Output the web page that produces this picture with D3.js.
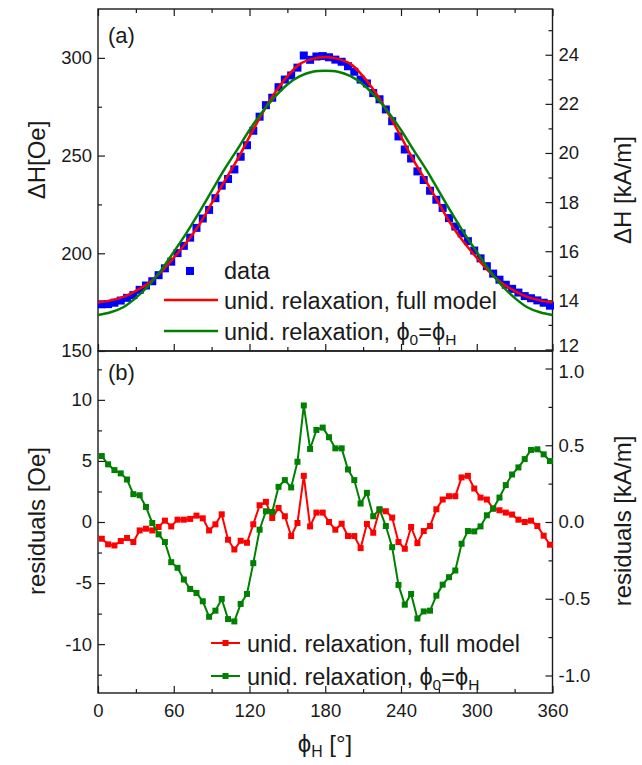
<!DOCTYPE html>
<html>
<head>
<meta charset="utf-8">
<script src="https://cdn.jsdelivr.net/npm/d3@7"></script>
<style>
  body { margin: 0; background: #fff; }
  text { font-family: "Liberation Sans", Arial, sans-serif; fill: #1a1a1a; }
  .axis path { display: none; }
  .axis line { stroke: #1a1a1a; stroke-width: 1.2; }
</style>
</head>
<body>
<svg id="chart" width="642" height="765"></svg>
<script>
// measured field angles (deg)
var angles = [3, 8, 13, 18, 23, 28, 33, 38, 43, 48, 53, 58, 63, 68, 73, 78, 83, 88,
  93, 98, 103, 108, 113, 118, 123, 128, 133, 138, 143, 148, 153, 158, 163, 168, 173, 178,
  183, 188, 193, 198, 203, 208, 213, 218, 223, 228, 233, 238, 243, 248, 253, 258, 263, 268,
  273, 278, 283, 288, 293, 298, 303, 308, 313, 318, 323, 328, 333, 338, 343, 348, 353, 358];

// linewidth data, Oe
var dataDH = [173.9, 174.0, 174.7, 175.8, 177.2, 178.6, 181.3, 183.5, 185.7, 188.8,
  192.3, 195.7, 200.1, 203.8, 208.0, 213.0, 217.8, 222.2, 228.2, 234.6,
  238.0, 242.9, 249.4, 255.3, 262.7, 269.9, 275.8, 279.6, 285.0, 288.9,
  291.0, 295.0, 301.2, 299.0, 300.7, 300.9, 300.3, 299.1, 298.0, 295.7,
  292.9, 288.9, 286.9, 282.0, 278.8, 273.6, 267.6, 259.8, 253.1, 248.5,
  241.9, 237.5, 232.0, 227.4, 223.2, 218.0, 213.7, 210.2, 206.2, 201.4,
  197.4, 193.4, 189.6, 186.5, 183.9, 181.8, 179.9, 178.1, 177.0, 175.9,
  174.7, 173.2];

// residuals, Oe
var resFull = [-1.37, -1.83, -1.92, -1.56, -1.31, -1.64, -0.69, -0.55, -0.69, -0.41,
  0.11, -0.36, 0.19, 0.19, 0.25, 0.52, 0.30, -0.69, -0.19, 0.63,
  -1.45, -2.25, -1.54, -1.70, -0.19, 1.37, 1.65, 0.33, 1.15, 0.47,
  -1.15, -0.08, 3.78, -0.36, 0.77, 0.77, 0.00, -0.63, -0.14, -1.15,
  -1.15, -2.14, -0.16, -0.88, 1.01, 0.88, 0.36, -1.64, -2.19, -0.41,
  -1.73, -0.74, -0.33, 1.04, 1.84, 2.11, 2.11, 3.65, 3.78, 2.74,
  2.00, 1.84, 1.10, 0.96, 0.77, 0.61, 0.19, 0.00, 0.11, -0.33,
  -1.12, -1.86];

var resPhi = [5.40, 4.72, 4.25, 3.98, 3.48, 2.28, 2.19, 1.23, -0.08, -1.01,
  -1.64, -3.29, -3.75, -4.71, -5.48, -5.81, -6.49, -7.76, -7.26, -6.30,
  -7.95, -8.14, -6.71, -5.89, -3.37, -0.63, 0.88, 0.82, 2.88, 3.43,
  2.83, 4.93, 9.54, 5.98, 7.54, 7.73, 6.94, 6.03, 6.03, 4.30,
  3.43, 1.51, 2.39, 0.47, 1.04, -0.33, -2.06, -5.15, -6.77, -5.89,
  -7.90, -7.32, -7.26, -6.03, -5.13, -4.52, -3.97, -1.78, -0.74, -0.77,
  -0.36, 0.55, 1.10, 2.00, 3.02, 3.89, 4.47, 5.15, 5.90, 5.95,
  5.54, 4.99];

// fit curves, Oe
var fitAngles = [0, 10, 20, 30, 40, 50, 60, 70, 80, 90, 100, 110, 120, 130, 140, 150, 160, 170, 180,
  190, 200, 210, 220, 230, 240, 250, 260, 270, 280, 290, 300, 310, 320, 330, 340, 350, 360];
var fitFull = [174.8, 175.9, 177.7, 180.8, 184.7, 190.5, 197.7, 205.5, 214.5, 225.5, 236.7, 247.5,
  259.7, 271.5, 282.0, 290.5, 296.9, 299.5, 300.4, 299.5, 296.9, 290.5, 282.0, 271.5, 259.7,
  247.5, 236.7, 225.5, 214.5, 205.5, 197.7, 190.5, 184.7, 180.8, 177.7, 175.9, 174.8];
var fitPhi = [168.4, 169.8, 172.4, 177.2, 183.4, 191.3, 200.7, 210.3, 220.8, 231.8, 242.8, 252.8,
  263.1, 272.2, 280.0, 286.4, 290.6, 292.9, 293.4, 292.9, 290.6, 286.4, 280.0, 272.2, 263.1,
  252.8, 242.8, 231.8, 220.8, 210.3, 200.7, 191.3, 183.4, 177.2, 172.4, 169.8, 168.4];

var xMajor = [0, 60, 120, 180, 240, 300, 360];
var xMinor = [30, 90, 150, 210, 270, 330];
var aMajor = [150, 200, 250, 300], aMinor = [175, 225, 275];
var aRMajor = [12, 14, 16, 18, 20, 22, 24], aRMinor = [13, 15, 17, 19, 21, 23, 25];
var bMajor = [-10, -5, 0, 5, 10], bMinor = [-12.5, -7.5, -2.5, 2.5, 7.5, 12.5];
var bRMajor = [-1.0, -0.5, 0.0, 0.5, 1.0], bRMinor = [-0.75, -0.25, 0.25, 0.75];

var OE_TO_KAM = 0.0795775;
var col = { data: '#0000ff', full: '#ff0000', phi: '#008000' };

var svg = d3.select('#chart');
var left = 98, right = 552.5, topA = 9, mid = 351, bottom = 693;

var x = d3.scaleLinear().domain([0, 360]).range([left, right]);
var yA = d3.scaleLinear().domain([150, 325]).range([mid, topA]);
var yAr = d3.scaleLinear().domain([150 * OE_TO_KAM, 325 * OE_TO_KAM]).range([mid, topA]);
var yB = d3.scaleLinear().domain([-14, 14]).range([bottom, mid]);
var yBr = d3.scaleLinear().domain([-14 * OE_TO_KAM, 14 * OE_TO_KAM]).range([bottom, mid]);

function addAxis(axis, tx, ty, major, minor, fmt) {
  var g = svg.append('g').attr('class', 'axis')
    .attr('transform', 'translate(' + tx + ',' + ty + ')');
  g.call(axis.tickValues(major).tickSizeInner(-7).tickSizeOuter(0).tickPadding(6)
    .tickFormat(fmt || ''));
  g.selectAll('text').style('font-size', '18.5px').attr('fill', '#1a1a1a');
  var g2 = svg.append('g').attr('class', 'axis')
    .attr('transform', 'translate(' + tx + ',' + ty + ')');
  g2.call(axis.tickValues(minor).tickSizeInner(-4).tickFormat(''));
  return g;
}
var intFmt = function(d) { return String(d); };
var oneFmt = function(d) { return d.toFixed(1); };

// panel (a) axes
addAxis(d3.axisLeft(yA), left, 0, aMajor, aMinor, intFmt);
var ra = addAxis(d3.axisRight(yAr), right, 0, aRMajor, aRMinor, intFmt);
ra.selectAll('text').filter(function(d) { return d === 12; }).attr('dy', '0.1em');
addAxis(d3.axisTop(x), 0, topA, xMajor, xMinor, null);
addAxis(d3.axisBottom(x), 0, mid, xMajor, xMinor, null);
// panel (b) axes
addAxis(d3.axisLeft(yB), left, 0, bMajor, bMinor, intFmt);
var rb = addAxis(d3.axisRight(yBr), right, 0, bRMajor, bRMinor, oneFmt);
rb.selectAll('text').filter(function(d) { return d === 1; }).attr('dy', '0.5em');
var xb = addAxis(d3.axisBottom(x), 0, bottom, xMajor, xMinor, intFmt);
xb.selectAll('text').attr('dy', '0.95em');

// frames
svg.append('rect').attr('x', left).attr('y', topA).attr('width', right - left)
  .attr('height', mid - topA).attr('fill', 'none').attr('stroke', '#1a1a1a').attr('stroke-width', 1.4);
svg.append('rect').attr('x', left).attr('y', mid).attr('width', right - left)
  .attr('height', bottom - mid).attr('fill', 'none').attr('stroke', '#1a1a1a').attr('stroke-width', 1.4);

// panel (a) marks
var pts = angles.map(function(a, i) { return { a: a, dh: dataDH[i], rf: resFull[i], rp: resPhi[i] }; });
svg.append('g').selectAll('rect').data(pts).enter().append('rect')
  .attr('x', function(d) { return x(d.a) - 4; })
  .attr('y', function(d) { return yA(d.dh) - 4; })
  .attr('width', 8).attr('height', 8).attr('fill', col.data);

var fitLine = function(vals) {
  return d3.line().curve(d3.curveCatmullRom.alpha(0.5))
    .x(function(d, i) { return x(fitAngles[i]); })
    .y(function(d) { return yA(d); })(vals);
};
svg.append('path').attr('d', fitLine(fitFull)).attr('fill', 'none')
  .attr('stroke', col.full).attr('stroke-width', 2.5);
svg.append('path').attr('d', fitLine(fitPhi)).attr('fill', 'none')
  .attr('stroke', col.phi).attr('stroke-width', 2.5);

// panel (b) marks
function residuals(key, c) {
  var line = d3.line().x(function(d) { return x(d.a); }).y(function(d) { return yB(d[key]); });
  svg.append('path').attr('d', line(pts)).attr('fill', 'none')
    .attr('stroke', c).attr('stroke-width', 2);
  svg.append('g').selectAll('rect').data(pts).enter().append('rect')
    .attr('x', function(d) { return x(d.a) - 3; })
    .attr('y', function(d) { return yB(d[key]) - 3; })
    .attr('width', 6).attr('height', 6).attr('fill', c);
}
residuals('rf', col.full);
residuals('rp', col.phi);

// labels with subscripts
function phiText(t, parts, size) {
  parts.forEach(function(p) {
    var s = t.append('tspan').text(p.t);
    if (p.sub) s.attr('baseline-shift', '-30%').style('font-size', (size * 0.66) + 'px');
  });
}

// legends
var LF = 23.5;
var legA = svg.append('g');
legA.append('rect').attr('x', 186).attr('y', 267).attr('width', 8).attr('height', 8).attr('fill', col.data);
legA.append('line').attr('x1', 164).attr('x2', 218).attr('y1', 300).attr('y2', 300)
  .attr('stroke', col.full).attr('stroke-width', 2.5);
legA.append('line').attr('x1', 164).attr('x2', 218).attr('y1', 331).attr('y2', 331)
  .attr('stroke', col.phi).attr('stroke-width', 2.5);
legA.append('text').attr('x', 224).attr('y', 279).style('font-size', LF + 'px').text('data');
legA.append('text').attr('x', 224).attr('y', 308.5).style('font-size', LF + 'px')
  .text('unid. relaxation, full model');
phiText(legA.append('text').attr('x', 224).attr('y', 339.5).style('font-size', LF + 'px'),
  [{ t: 'unid. relaxation, ϕ' }, { t: '0', sub: true }, { t: '=ϕ' }, { t: 'H', sub: true }], LF);

var legB = svg.append('g');
[[643, col.full], [676, col.phi]].forEach(function(r) {
  legB.append('line').attr('x1', 211).attr('x2', 240).attr('y1', r[0]).attr('y2', r[0])
    .attr('stroke', r[1]).attr('stroke-width', 2);
  legB.append('rect').attr('x', 222.5).attr('y', r[0] - 3).attr('width', 6).attr('height', 6).attr('fill', r[1]);
});
legB.append('text').attr('x', 247).attr('y', 651.5).style('font-size', LF + 'px')
  .text('unid. relaxation, full model');
phiText(legB.append('text').attr('x', 247).attr('y', 684.5).style('font-size', LF + 'px'),
  [{ t: 'unid. relaxation, ϕ' }, { t: '0', sub: true }, { t: '=ϕ' }, { t: 'H', sub: true }], LF);

// panel tags
svg.append('text').attr('x', 108).attr('y', 43).style('font-size', '22px').text('(a)');
svg.append('text').attr('x', 108).attr('y', 380).style('font-size', '22px').text('(b)');

// axis titles
function vTitle(cx, cy, str) {
  return svg.append('text').attr('transform', 'translate(' + cx + ',' + cy + ') rotate(-90)')
    .attr('text-anchor', 'middle').style('font-size', '24px').text(str);
}
vTitle(45, 160, 'ΔH[Oe]');
vTitle(45, 521, 'residuals [Oe]');
vTitle(631, 190, 'ΔH [kA/m]');
vTitle(631, 521, 'residuals [kA/m]');
phiText(svg.append('text').attr('x', 325).attr('y', 752).attr('text-anchor', 'middle')
  .style('font-size', '24px'), [{ t: 'ϕ' }, { t: 'H', sub: true }, { t: ' [°]' }], 24);
</script>
</body>
</html>
